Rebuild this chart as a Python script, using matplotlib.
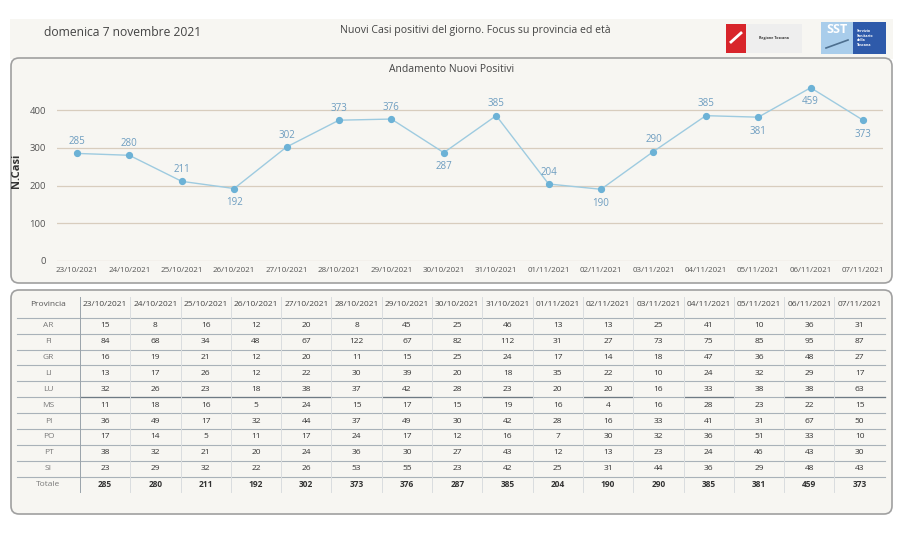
import numpy as np
import matplotlib
matplotlib.use('Agg')
import matplotlib.pyplot as plt
from matplotlib.patches import FancyBboxPatch, Rectangle

plt.rcParams['font.family'] = ['Open Sans', 'DejaVu Sans']

# ---------------------------------------------------------------------
# Data
dates = ['23/10/2021', '24/10/2021', '25/10/2021', '26/10/2021', '27/10/2021',
         '28/10/2021', '29/10/2021', '30/10/2021', '31/10/2021', '01/11/2021',
         '02/11/2021', '03/11/2021', '04/11/2021', '05/11/2021', '06/11/2021',
         '07/11/2021']
provinces = ['AR', 'FI', 'GR', 'LI', 'LU', 'MS', 'PI', 'PO', 'PT', 'SI']
AR = [15, 8, 16, 12, 20, 8, 45, 25, 46, 13, 13, 25, 41, 10, 36, 31]
FI = [84, 68, 34, 48, 67, 122, 67, 82, 112, 31, 27, 73, 75, 85, 95, 87]
GR = [16, 19, 21, 12, 20, 11, 15, 25, 24, 17, 14, 18, 47, 36, 48, 27]
LI = [13, 17, 26, 12, 22, 30, 39, 20, 18, 35, 22, 10, 24, 32, 29, 17]
LU = [32, 26, 23, 18, 38, 37, 42, 28, 23, 20, 20, 16, 33, 38, 38, 63]
MS = [11, 18, 16, 5, 24, 15, 17, 15, 19, 16, 4, 16, 28, 23, 22, 15]
PI = [36, 49, 17, 32, 44, 37, 49, 30, 42, 28, 16, 33, 41, 31, 67, 50]
PO = [17, 14, 5, 11, 17, 24, 17, 12, 16, 7, 30, 32, 36, 51, 33, 10]
PT = [38, 32, 21, 20, 24, 36, 30, 27, 43, 12, 13, 23, 24, 46, 43, 30]
SI = [23, 29, 32, 22, 26, 53, 55, 23, 42, 25, 31, 44, 36, 29, 48, 43]
totale = [285, 280, 211, 192, 302, 373, 376, 287, 385, 204, 190, 290, 385, 381, 459, 373]
# which point labels sit below the marker
label_below = [False, False, False, True, False, False, False, True, False, False,
               True, False, False, True, True, True]

rows = [AR, FI, GR, LI, LU, MS, PI, PO, PT, SI]

W, H = 903, 536
fig = plt.figure(figsize=(W/100, H/100), dpi=100)
fig.patch.set_facecolor('white')

# ---------------------------------------------------------------------
# Background layer in pixel coordinates
bg = fig.add_axes((0, 0, 1, 1))
bg.set_xlim(0, W)
bg.set_ylim(H, 0)
bg.axis('off')

PANEL = '#F7F6F2'
bg.add_patch(Rectangle((10, 19), 883, 40, facecolor=PANEL, edgecolor='none'))
for (y0, y1) in [(58, 283), (290, 514)]:
    bg.add_patch(FancyBboxPatch((11, y0), 881, y1 - y0,
        boxstyle='round,pad=0,rounding_size=8',
        facecolor=PANEL, edgecolor='#A0A0A0', lw=1.2))

bg.text(44, 33, 'domenica 7 novembre 2021', fontsize=8.7, color='#444444',
        ha='left', va='center')
bg.text(475, 31, 'Nuovi Casi positivi del giorno. Focus su provincia ed età',
        fontsize=7.6, color='#444444', ha='center', va='center')
bg.text(452, 70, 'Andamento Nuovi Positivi', fontsize=7.5, color='#444444',
        ha='center', va='center')

# ---- logos (rough)
bg.add_patch(Rectangle((726, 24), 20, 29, facecolor='#D8252B', edgecolor='none'))
bg.plot([731, 741], [42, 33], color='white', lw=2)
bg.add_patch(Rectangle((746, 24), 56, 29, facecolor='#EEEEEE', edgecolor='none'))
bg.text(774, 38.5, 'Regione Toscana', fontsize=2.6, fontweight='bold',
        color='#333333', ha='center', va='center')
bg.add_patch(Rectangle((821, 22), 32, 32, facecolor='#A9CDEB', edgecolor='none'))
bg.text(837, 29.5, 'SST', fontsize=9, fontweight='bold', color='white',
        ha='center', va='center')
bg.plot([826, 848], [48, 40], color='#4D6F8F', lw=1.2)
bg.add_patch(Rectangle((853, 22), 33, 32, facecolor='#2E5AAA', edgecolor='none'))
bg.text(857, 38, 'Servizio\nSanitario\ndella\nToscana', fontsize=2.6,
        fontweight='bold', color='white', ha='left', va='center', linespacing=1.3)

# ---------------------------------------------------------------------
# Line chart
ax = fig.add_axes((57/W, 1 - 261/H, 826/W, (261 - 79.8)/H))
ax.set_facecolor('none')
x = np.arange(len(dates))
ax.plot(x, totale, color='#9ECBE0', lw=1.0, zorder=3)
ax.plot(x, totale, 'o', color='#6CB2D6', ms=4.2, zorder=4)
for xi, v, below in zip(x, totale, label_below):
    ax.annotate(str(v), (xi, v), xytext=(0, -10 if below else 8.5),
                textcoords='offset points', ha='center', va='center',
                fontsize=7, color='#6D9DC0')

ax.set_xlim(-0.38, len(dates) - 1 + 0.38)
ax.set_ylim(0, 480)
ax.set_yticks([0, 100, 200, 300, 400])
ax.yaxis.grid(True, color='#D8CDBE', lw=0.9)
ax.set_axisbelow(True)
for s in ax.spines.values():
    s.set_visible(False)
ax.set_xticks(x)
ax.set_xticklabels(dates)
ax.tick_params(axis='x', length=0, pad=4, labelsize=5.8, labelcolor='#555555')
ax.tick_params(axis='y', length=0, pad=8, labelsize=6.8, labelcolor='#555555')
ax.set_ylabel('N.Casi', fontsize=8, fontweight='bold', color='#333333', labelpad=5)

# ---------------------------------------------------------------------
# Table
col0_l, col0_r = 17, 80
cw = 50.3
bounds = [col0_r + cw * i for i in range(len(dates) + 1)]
hdr_y = 305
row_y0 = 325.7
rh = 15.9
fs = 6.0

bg.text((col0_l + col0_r) / 2, hdr_y, 'Provincia', fontsize=fs, color='#555555',
        ha='center', va='center')
for i, d in enumerate(dates):
    bg.text((bounds[i] + bounds[i + 1]) / 2, hdr_y, d, fontsize=fs,
            color='#444444', ha='center', va='center')

labels = provinces + ['Totale']
values = rows + [totale]
for k, (lab, vals) in enumerate(zip(labels, values)):
    yy = row_y0 + rh * k
    bg.text((col0_l + col0_r) / 2, yy, lab, fontsize=fs, color='#7A7A7A',
            ha='center', va='center')
    for i, v in enumerate(vals):
        bg.text((bounds[i] + bounds[i + 1]) / 2, yy, str(v), fontsize=fs,
                color='#333333', ha='center', va='center',
                fontweight='bold' if lab == 'Totale' else 'normal')

# horizontal rules
for k in range(len(provinces) + 1):
    yl = row_y0 - rh / 2 + rh * k
    bg.plot([col0_l, bounds[-1]], [yl, yl], color='#A9B2B9', lw=0.8)
# darker segments under LU row
lu_y = row_y0 - rh / 2 + rh * 5
for i in [0, 1, 2, 3, 4, 6, 8, 10, 12, 14, 15]:
    bg.plot([bounds[i], bounds[i + 1]], [lu_y, lu_y], color='#6E7A84', lw=0.9)

# vertical separators
for i, b in enumerate(bounds[:-1]):
    bg.plot([b, b], [297, 492], color='#9AA3AA' if i == 0 else '#DADDDF', lw=0.7)

fig.savefig('out.png', dpi=100, facecolor='white')
